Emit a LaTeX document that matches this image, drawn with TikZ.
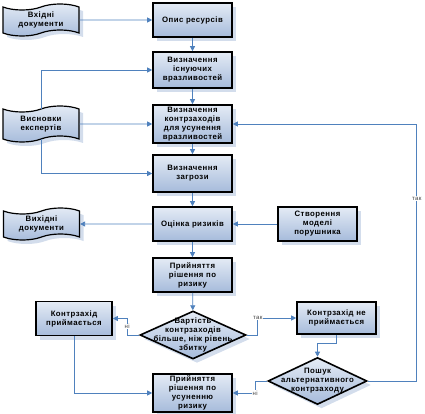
\documentclass[tikz,border=0pt]{standalone}
\usepackage{fontspec}
\setmainfont{Liberation Sans}[LetterSpace=6]
\usetikzlibrary{shapes.geometric,shapes.symbols,shadows,arrows.meta}
\definecolor{linec}{HTML}{4F81BD}
\definecolor{filltop}{HTML}{E4EBF5}
\definecolor{fillbot}{HTML}{A6BBDB}
\definecolor{shadowc}{HTML}{D3DDEC}
\begin{document}
\begin{tikzpicture}[x=1pt,y=-1pt,
  txt/.style={font=\bfseries\fontsize{7.8}{9}\selectfont, align=center},
  stepbox/.style={txt, draw=black, line width=1.6pt, top color=filltop, bottom color=fillbot,
    minimum width=79pt, minimum height=34pt, text width=77pt, inner sep=1pt,
    drop shadow={shadow xshift=4pt, shadow yshift=-4pt, fill=shadowc, opacity=1}},
  doc/.style={stepbox, shape=tape, tape bend height=6pt, line width=1.2pt,
    minimum width=76pt, minimum height=32pt, text width=68pt},
  decision/.style={shape=diamond, draw=black, line width=1.6pt, top color=filltop, bottom color=fillbot,
    inner sep=0pt, drop shadow={shadow xshift=4pt, shadow yshift=-4pt, fill=shadowc, opacity=1}},
  conn/.style={draw=linec, line width=0.8pt, -{Triangle[length=5pt,width=5pt]}},
  lbl/.style={font=\fontsize{6}{7}\selectfont, text=black!75, fill=white, inner sep=0.5pt}]
\useasboundingbox (0,0) rectangle (425,414);
% documents
\node[doc] (indoc) at (41,20) {Вхідні\\документи};
\node[doc, minimum height=36pt] (expert) at (41,124) {Висновки\\експертів};
\node[doc] (outdoc) at (41.5,224) {Вихідні\\документи};
% main column
\node[stepbox] (res) at (192.5,20) {Опис ресурсів};
\node[stepbox, minimum height=36pt] (vuln) at (192.5,70) {Визначення\\існуючих\\вразливостей};
\node[stepbox, minimum height=38pt] (meas) at (192.5,124) {Визначення\\контрзаходів\\для усунення\\вразливостей};
\node[stepbox, minimum height=37pt] (threat) at (192.5,173.5) {Визначення\\загрози};
\node[stepbox] (risk) at (192.5,224) {Оцінка ризиків};
\node[stepbox] (decide) at (192.5,275) {Прийняття\\рішення по\\ризику};
\node[decision, minimum width=106pt, minimum height=48pt] (cost) at (193,335) {};
\node[txt] (costtext) at (cost) {Вартість\\контрзаходів\\більше, ніж рівень\\збитку};
\node[stepbox, minimum height=38pt] (fix) at (192.5,393) {Прийняття\\рішення по\\усуненню\\ризику};
% side boxes
\node[stepbox, minimum width=77pt] (model) at (317.5,224) {Створення\\моделі\\порушника};
\node[stepbox, minimum width=76pt, text width=74pt] (accept) at (74,318.5) {Контрзахід\\приймається};
\node[stepbox, minimum width=77pt, minimum height=32pt] (reject) at (336.5,318) {Контрзахід не\\приймається};
\node[decision, minimum width=99pt, minimum height=47pt] (alt) at (317.5,381) {};
\node[txt] (alttext) at (alt) {Пошук\\альтернативного\\контрзаходу};
% connectors
\draw[conn] (indoc) -- (res);
\draw[conn] (res) -- (vuln);
\draw[conn] (vuln) -- (meas);
\draw[conn] (meas) -- (threat);
\draw[conn] (threat) -- (risk);
\draw[conn] (risk) -- (decide);
\draw[conn] (decide) -- (cost);
\draw[conn] (expert.north) |- (vuln);
\draw[conn] (expert) -- (meas);
\draw[conn] (expert.south) |- (threat);
\draw[conn] (risk) -- (outdoc);
\draw[conn] (model) -- (risk);
\draw[conn] (cost.west) -- ++(-12,0) |- node[lbl, pos=0.25] {ні} (accept.east);
\draw[conn] (cost.east) -- ++(11,0) |- node[lbl, pos=0.5] {так} (reject.west);
\draw[conn] (accept.south) |- (fix);
\draw[conn] (reject.south) -- ++(0,9) -| (alt.north);
\draw[conn] (alt.west) -- ++(-12,0) |- node[lbl, pos=0.5] {ні} (fix.east);
\draw[conn] (alt.east) -- ++(49,0) |- node[lbl, pos=0.355] {так} (meas.east);
\end{tikzpicture}
\end{document}
